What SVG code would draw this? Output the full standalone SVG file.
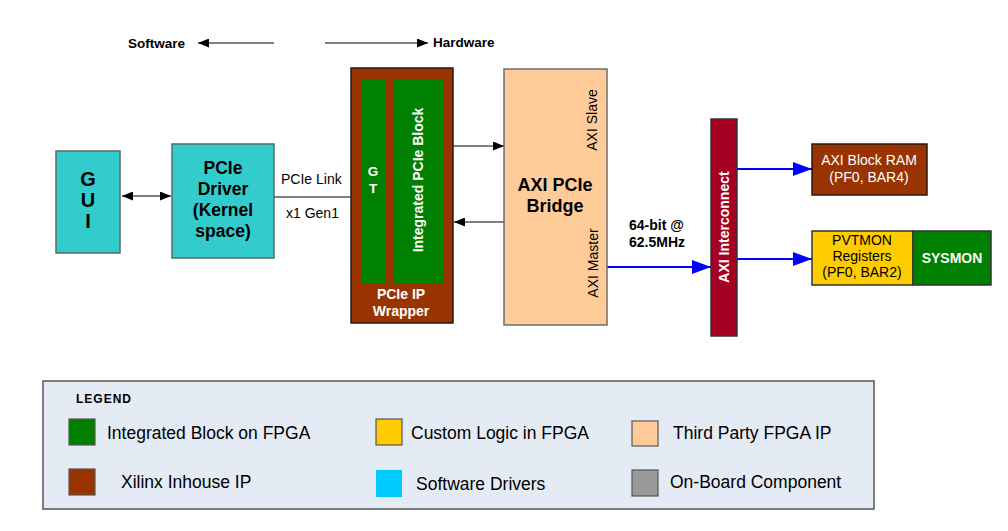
<svg xmlns="http://www.w3.org/2000/svg" width="1008" height="531" viewBox="0 0 1008 531">
<style>
text{font-family:"Liberation Sans",Arial,sans-serif;}
.b{font-weight:bold;}
.w{fill:#fff;}
.k{fill:#000;}
.c{text-anchor:middle;}
.cyan{fill:#33CCCC;stroke:#5a6a6a;stroke-width:1.5;}
.brown{fill:#993300;stroke:#2b1a10;stroke-width:1.5;}
.green{fill:#008000;stroke:none;}
.peach{fill:#FFCC99;stroke:#6e6e6e;stroke-width:1.5;}
.crim{fill:#A50021;stroke:#333;stroke-width:1.5;}
.yel{fill:#FFCC00;stroke:#333;stroke-width:1.5;}
.blk{stroke:#000;stroke-width:1;fill:none;}
.blue{stroke:#0000FF;stroke-width:2.2;fill:none;}
.sw{stroke:#555;stroke-width:1.2;}
</style>
<defs>
<marker id="ah" markerUnits="userSpaceOnUse" markerWidth="11" markerHeight="9" refX="11" refY="4.5" orient="auto-start-reverse">
<path d="M0,0 L11,4.5 L0,9 z" fill="#000"/>
</marker>
<marker id="bh" markerUnits="userSpaceOnUse" markerWidth="19" markerHeight="14" refX="19" refY="7" orient="auto">
<path d="M0,0 L19,7 L0,14 z" fill="#0000FF"/>
</marker>
</defs>
<rect width="1008" height="531" fill="#fff"/>

<g id="labels-top">
<text class="b" x="128" y="48" font-size="13.5">Software</text>
<text class="b" x="433" y="47" font-size="13.5">Hardware</text>
</g>

<g id="connectors">
<line class="blk" x1="274" y1="43" x2="198" y2="43" marker-end="url(#ah)"/>
<line class="blk" x1="325" y1="43" x2="428" y2="43" marker-end="url(#ah)"/>
<line class="blk" x1="122" y1="196" x2="171" y2="196" marker-start="url(#ah)" marker-end="url(#ah)"/>
<line x1="274" y1="197" x2="351" y2="197" stroke="#808080" stroke-width="1.8"/>
<line class="blk" x1="453" y1="146" x2="504" y2="146" marker-end="url(#ah)"/>
<line class="blk" x1="504" y1="222" x2="454" y2="222" marker-end="url(#ah)"/>
<line class="blue" x1="607" y1="267" x2="711" y2="267" marker-end="url(#bh)"/>
<line class="blue" x1="737" y1="169" x2="812" y2="169" marker-end="url(#bh)"/>
<line class="blue" x1="737" y1="259" x2="812" y2="259" marker-end="url(#bh)"/>
<text x="281" y="184" font-size="14">PCIe Link</text>
<text x="286" y="218" font-size="14">x1 Gen1</text>
<text class="b" x="629" y="230" font-size="14">64-bit @</text>
<text class="b" x="629" y="247" font-size="14">62.5MHz</text>
</g>

<g id="gui">
<rect class="cyan" x="56" y="151" width="64" height="102"/>
<text class="b c" x="88" y="186" font-size="20">G</text>
<text class="b c" x="88" y="207" font-size="20">U</text>
<text class="b c" x="88" y="228" font-size="20">I</text>
</g>

<g id="pcie-driver">
<rect class="cyan" x="172" y="144" width="102" height="114"/>
<text class="b c" x="223" y="174" font-size="17.5">PCIe</text>
<text class="b c" x="223" y="195" font-size="17.5">Driver</text>
<text class="b c" x="223" y="216" font-size="17.5">(Kernel</text>
<text class="b c" x="223" y="237" font-size="17.5">space)</text>
</g>

<g id="pcie-ip-wrapper">
<rect class="brown" x="351" y="68" width="102" height="255"/>
<text class="b c w" x="401" y="299" font-size="14">PCIe IP</text>
<text class="b c w" x="401" y="316" font-size="14">Wrapper</text>
</g>

<g id="gt">
<rect class="green" x="361" y="79" width="25" height="204"/>
<text class="b c w" x="373" y="176" font-size="13.5">G</text>
<text class="b c w" x="373" y="193" font-size="13.5">T</text>
</g>

<g id="integrated-pcie-block">
<rect class="green" x="393" y="79" width="51" height="204"/>
<text class="b c w" transform="translate(423,180) rotate(-90)" font-size="14">Integrated PCIe Block</text>
</g>

<g id="axi-pcie-bridge">
<rect class="peach" x="504" y="69" width="103" height="256"/>
<text class="b c" x="555" y="191" font-size="18">AXI PCIe</text>
<text class="b c" x="555" y="212" font-size="18">Bridge</text>
<text class="c" transform="translate(597,120) rotate(-90)" font-size="14">AXI Slave</text>
<text class="c" transform="translate(598,263) rotate(-90)" font-size="14">AXI Master</text>
</g>

<g id="axi-interconnect">
<rect class="crim" x="711" y="119" width="26" height="217"/>
<text class="b c w" transform="translate(729,227) rotate(-90)" font-size="14">AXI Interconnect</text>
</g>

<g id="axi-block-ram">
<rect class="brown" x="812" y="144" width="115" height="51"/>
<text class="c w" x="869" y="165" font-size="14">AXI Block RAM</text>
<text class="c w" x="869" y="182" font-size="14">(PF0, BAR4)</text>
</g>

<g id="pvtmon">
<rect class="yel" x="812" y="231" width="101" height="54"/>
<text class="c" x="862" y="245" font-size="14">PVTMON</text>
<text class="c" x="862" y="261" font-size="14">Registers</text>
<text class="c" x="862" y="277" font-size="14">(PF0, BAR2)</text>
</g>

<g id="sysmon">
<rect x="913" y="231" width="78" height="54" fill="#008000" stroke="#333" stroke-width="1.5"/>
<text class="b c w" x="952" y="263" font-size="14">SYSMON</text>
</g>

<g id="legend">
<rect x="43" y="381" width="831" height="128" fill="#E5EBF5" stroke="#555" stroke-width="1.5"/>
<text class="b" x="76" y="403" font-size="12" letter-spacing="1">LEGEND</text>
<rect class="sw" x="69" y="419" width="26" height="26" fill="#008000"/>
<text x="107" y="439" font-size="17.5">Integrated Block on FPGA</text>
<rect class="sw" x="69" y="469" width="26" height="26" fill="#993300"/>
<text x="121" y="488" font-size="17.5">Xilinx Inhouse IP</text>
<rect class="sw" x="376" y="419" width="26" height="26" fill="#FFCC00"/>
<text x="411" y="439" font-size="17.5">Custom Logic in FPGA</text>
<rect x="376" y="470" width="26" height="27" fill="#00CCFF"/>
<text x="416" y="490" font-size="17.5">Software Drivers</text>
<rect class="sw" x="632" y="421" width="26" height="25" fill="#FFCC99"/>
<text x="673" y="439" font-size="17.5">Third Party FPGA IP</text>
<rect class="sw" x="632" y="470" width="26" height="26" fill="#999999"/>
<text x="670" y="488" font-size="17.5">On-Board Component</text>
</g>
</svg>
